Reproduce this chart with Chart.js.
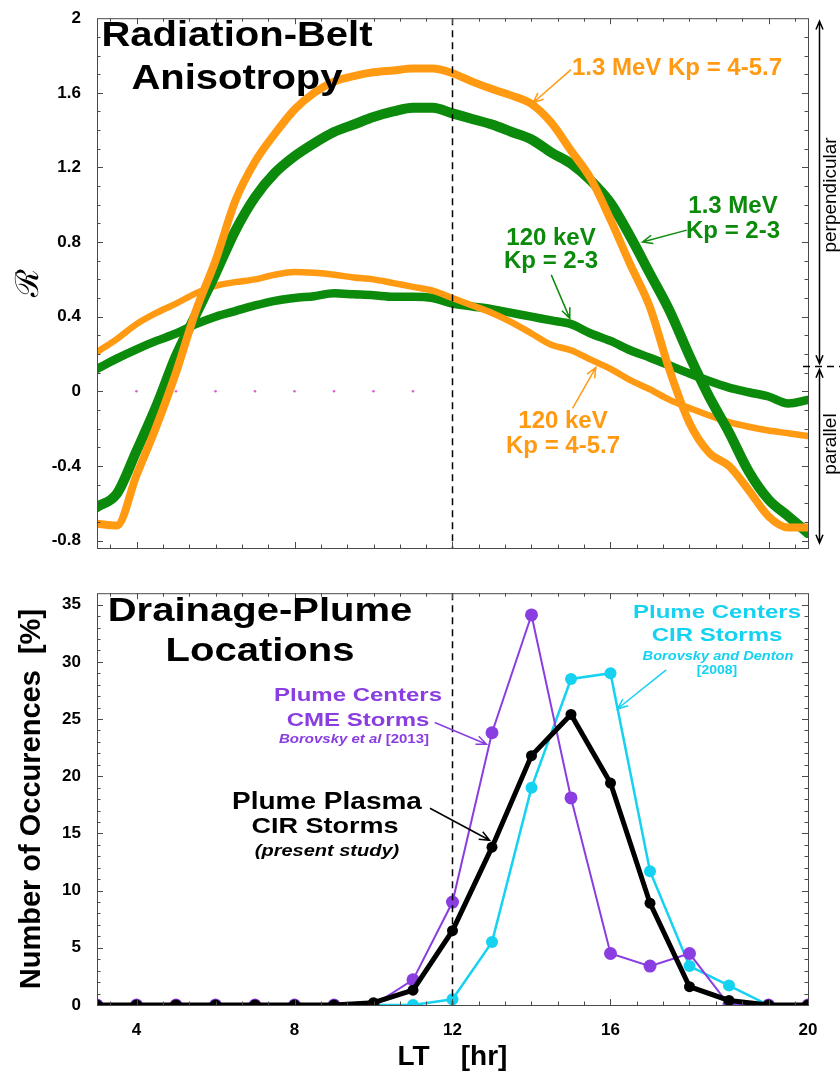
<!DOCTYPE html>
<html>
<head>
<meta charset="utf-8">
<script src="https://cdn.jsdelivr.net/npm/chart.js@4.4.1/dist/chart.umd.min.js"></script>
<style>
  html, body { margin: 0; padding: 0; background: #fff; }
  #page { position: relative; width: 840px; height: 1074px; overflow: hidden; font-family: 'Liberation Sans', Arial, sans-serif; }
  canvas { position: absolute; left: 0; }
  .lbl { position: absolute; white-space: nowrap; font-weight: bold; line-height: 1.12; }
</style>
</head>
<body>
<div id="page">
  <canvas id="beltChart" width="840" height="575" style="top:0"></canvas>
  <canvas id="plumeChart" width="840" height="499" style="top:575px"></canvas>
</div>
<script>
// ---- top panel: anisotropy R vs local time ----
const beltHours = [3, 3.5, 4, 4.5, 5, 5.5, 6, 6.5, 7, 7.5, 8, 8.5, 9, 9.5, 10, 10.5, 11, 11.5, 12,
  12.5, 13, 13.5, 14, 14.5, 15, 15.5, 16, 16.5, 17, 17.5, 18, 18.5, 19, 19.5, 20, 20.5, 21];
const mev13HighKp = [-0.71, -0.72, -0.45, -0.19, 0.10, 0.43, 0.70, 1.02, 1.23, 1.38, 1.51, 1.60, 1.66, 1.69, 1.71, 1.72, 1.73, 1.73, 1.705,
  1.66, 1.62, 1.585, 1.54, 1.44, 1.29, 1.14, 0.92, 0.68, 0.45, 0.11, -0.17, -0.33, -0.40, -0.53, -0.67, -0.73, -0.73];
const mev13LowKp = [-0.62, -0.55, -0.32, -0.08, 0.19, 0.41, 0.63, 0.86, 1.04, 1.17, 1.26, 1.33, 1.39, 1.43, 1.47, 1.50, 1.52, 1.52, 1.49,
  1.46, 1.43, 1.39, 1.35, 1.28, 1.22, 1.13, 1.01, 0.83, 0.63, 0.43, 0.19, -0.03, -0.22, -0.43, -0.58, -0.67, -0.76];
const kev120HighKp = [0.21, 0.28, 0.36, 0.42, 0.47, 0.525, 0.565, 0.585, 0.60, 0.625, 0.64, 0.635, 0.625, 0.61, 0.60, 0.58, 0.56, 0.54, 0.50,
  0.46, 0.42, 0.37, 0.31, 0.25, 0.22, 0.17, 0.12, 0.06, 0.01, -0.046, -0.09, -0.13, -0.165, -0.19, -0.21, -0.225, -0.24];
const kev120LowKp = [0.12, 0.175, 0.225, 0.27, 0.31, 0.36, 0.40, 0.43, 0.46, 0.485, 0.50, 0.51, 0.525, 0.52, 0.515, 0.507, 0.507, 0.50, 0.47,
  0.455, 0.44, 0.42, 0.40, 0.38, 0.36, 0.31, 0.27, 0.22, 0.18, 0.138, 0.095, 0.055, 0.02, -0.005, -0.028, -0.065, -0.046];
const zeroMarkHours = [3, 4, 5, 6, 7, 8, 9, 10, 11];
const zeroMarkValues = [0, 0, 0, 0, 0, 0, 0, 0, 0];
const beltYTicks = [-0.8, -0.4, 0, 0.4, 0.8, 1.2, 1.6, 2];

// ---- bottom panel: plume occurrence vs local time ----
const plumeHours = [3, 4, 5, 6, 7, 8, 9, 10, 11, 12, 13, 14, 15, 16, 17, 18, 19, 20, 21];
const plumePlasmaCIR = [0, 0, 0, 0, 0, 0, 0, 0.2, 1.3, 6.5, 13.8, 21.8, 25.4, 19.4, 8.9, 1.6, 0.4, 0, 0];
const plumeCentersCME = [0, 0, 0, 0, 0, 0, 0, 0, 2.2, 9.0, 23.8, 34.1, 18.1, 4.5, 3.4, 4.5, 0, 0, 0];
const plumeCentersCIR = [0, 0, 0, 0, 0, 0, 0, 0, 0, 0.5, 5.5, 19.0, 28.5, 29.0, 11.7, 3.4, 1.7, 0, null];
const plumeYTicks = [0, 5, 10, 15, 20, 25, 30, 35];
const plumeXTicks = [4, 8, 12, 16, 21];
const plumeXTickLabels = ['4', '8', '12', '16', '20'];   // the original puts "20" at the right edge

const ORANGE = '#ff9a12', GREEN = '#0b8a0b', PURPLE = '#8a3de0', CYAN = '#14d2f0';
const FONT = "'Liberation Sans', Arial, sans-serif";
const tickFont = { family: FONT, size: 17, weight: 'bold' };

Chart.defaults.font.family = FONT;
Chart.defaults.color = '#000';

const pts = (xs, ys) => xs.map((x, i) => ({ x: x, y: ys[i] }));

// frame with inward ticks on all four sides, plus dashed noon line
const frame = {
  id: 'frame',
  afterDatasetsDraw(chart, args, o) {
    const { ctx, chartArea: a, scales: { x, y } } = chart;
    ctx.save();
    const px = x.getPixelForValue(o.dashAt);
    ctx.setLineDash([7, 5]);
    ctx.strokeStyle = '#000';
    ctx.lineWidth = 1.5;
    ctx.beginPath(); ctx.moveTo(px, a.top); ctx.lineTo(px, a.bottom); ctx.stroke();
    ctx.setLineDash([]);

    ctx.strokeStyle = '#4a4a4a';
    ctx.lineWidth = 1;
    ctx.strokeRect(a.left + 0.5, a.top + 0.5, a.right - a.left, a.bottom - a.top);
    const isMajor = (v, m) => Math.abs(v / m - Math.round(v / m)) < 1e-6;
    ctx.beginPath();
    for (let v = o.xFrom; v < x.max - 1e-6; v += o.xStep) {
      const p = Math.round(x.getPixelForValue(v)) + 0.5;
      const len = isMajor(v, o.xMajor) ? 6 : 3.5;
      ctx.moveTo(p, a.bottom); ctx.lineTo(p, a.bottom - len);
      ctx.moveTo(p, a.top); ctx.lineTo(p, a.top + len);
    }
    for (let v = o.yFrom; v < y.max - 1e-6; v += o.yStep) {
      const p = Math.round(y.getPixelForValue(v)) + 0.5;
      const len = isMajor(v, o.yMajor) ? 6 : 3.5;
      ctx.moveTo(a.left, p); ctx.lineTo(a.left + len, p);
      ctx.moveTo(a.right, p); ctx.lineTo(a.right - len, p);
    }
    ctx.stroke();
    ctx.restore();
  }
};

function arrowHead(ctx, x0, y0, x1, y1, len) {
  const ang = Math.atan2(y1 - y0, x1 - x0);
  ctx.moveTo(x1 - len * Math.cos(ang - 0.4), y1 - len * Math.sin(ang - 0.4));
  ctx.lineTo(x1, y1);
  ctx.lineTo(x1 - len * Math.cos(ang + 0.4), y1 - len * Math.sin(ang + 0.4));
}

// label pointers, given in data coordinates
const callouts = {
  id: 'callouts',
  afterDatasetsDraw(chart, args, o) {
    const { ctx, scales: { x, y } } = chart;
    ctx.save();
    ctx.lineWidth = 1.5;
    o.arrows.forEach(a => {
      const x0 = x.getPixelForValue(a.from[0]), y0 = y.getPixelForValue(a.from[1]);
      const x1 = x.getPixelForValue(a.to[0]), y1 = y.getPixelForValue(a.to[1]);
      ctx.strokeStyle = a.color;
      ctx.beginPath();
      ctx.moveTo(x0, y0); ctx.lineTo(x1, y1);
      arrowHead(ctx, x0, y0, x1, y1, 11);
      ctx.stroke();
    });
    ctx.restore();
  }
};

// perpendicular / parallel brackets at the right of the top panel
const sideArrows = {
  id: 'sideArrows',
  afterDraw(chart, args, o) {
    const { ctx, chartArea: a, scales: { y } } = chart;
    const ax = a.right + 11.5, ys = y.getPixelForValue(o.split);
    ctx.save();
    ctx.strokeStyle = '#000';
    ctx.lineWidth = 1.5;
    const seg = (y0, y1) => {
      ctx.beginPath();
      ctx.moveTo(ax, y0); ctx.lineTo(ax, y1);
      arrowHead(ctx, ax, y1, ax, y0, 9);
      arrowHead(ctx, ax, y0, ax, y1, 9);
      ctx.stroke();
    };
    seg(a.top + 3, ys - 3);
    seg(ys + 3, a.bottom - 5);
    ctx.setLineDash([7, 5]);
    ctx.beginPath(); ctx.moveTo(a.right - 5, ys); ctx.lineTo(chart.width, ys); ctx.stroke();
    ctx.restore();
  }
};

new Chart(document.getElementById('beltChart'), {
  type: 'line',
  data: {
    datasets: [
      { data: pts(beltHours, mev13HighKp), borderColor: ORANGE, borderWidth: 8 },
      { data: pts(beltHours, mev13LowKp), borderColor: GREEN, borderWidth: 10 },
      { data: pts(beltHours, kev120HighKp), borderColor: ORANGE, borderWidth: 6.5 },
      { data: pts(beltHours, kev120LowKp), borderColor: GREEN, borderWidth: 8.5 },
      { data: pts(zeroMarkHours, zeroMarkValues), showLine: false, pointRadius: 1.3,
        pointBackgroundColor: '#e060d0', pointBorderWidth: 0 }
    ]
  },
  options: {
    responsive: false,
    animation: false,
    layout: { padding: { top: 15, right: 32, left: 0, bottom: 0 } },
    elements: {
      point: { radius: 0 },
      line: { cubicInterpolationMode: 'monotone', borderCapStyle: 'round', borderJoinStyle: 'round' }
    },
    plugins: {
      legend: { display: false },
      tooltip: { enabled: false },
      frame: { dashAt: 12, xFrom: 10 / 3, xStep: 2 / 3, xMajor: 4, yFrom: -0.8, yStep: 0.1, yMajor: 0.4 },
      callouts: {
        arrows: [
          { from: [15.0, 1.724], to: [14.04, 1.547], color: ORANGE },
          { from: [17.93, 0.864], to: [16.81, 0.80], color: GREEN },
          { from: [14.5, 0.624], to: [14.97, 0.391], color: GREEN },
          { from: [15.04, -0.091], to: [15.63, 0.128], color: ORANGE }
        ]
      },
      sideArrows: { split: 0.133 }
    },
    scales: {
      x: {
        type: 'linear', min: 3, max: 21,
        grid: { display: false }, border: { display: false },
        ticks: { display: false },
        afterFit: s => { s.height = 27; }
      },
      y: {
        min: -0.84, max: 2,
        grid: { display: false }, border: { display: false },
        afterBuildTicks: s => { s.ticks = beltYTicks.map(v => ({ value: v })); },
        ticks: { font: tickFont, color: '#000', padding: 8, autoSkip: false, callback: v => String(v) },
        title: { display: true, text: 'ℛ', color: '#000',
          font: { family: 'DejaVu Serif', size: 32 }, padding: { top: 10, bottom: 0 } },
        afterFit: s => { s.width = 97; }
      }
    }
  },
  plugins: [frame, callouts, sideArrows]
});

new Chart(document.getElementById('plumeChart'), {
  type: 'line',
  data: {
    datasets: [
      { data: pts(plumeHours, plumePlasmaCIR), borderColor: '#000', borderWidth: 5,
        pointRadius: 5.5, pointBackgroundColor: '#000', pointBorderWidth: 0 },
      { data: pts(plumeHours, plumeCentersCME), borderColor: PURPLE, borderWidth: 2,
        pointRadius: 6.5, pointBackgroundColor: PURPLE, pointBorderWidth: 0 },
      { data: pts(plumeHours, plumeCentersCIR), borderColor: CYAN, borderWidth: 2.5,
        pointRadius: 6, pointBackgroundColor: CYAN, pointBorderWidth: 0 }
    ]
  },
  options: {
    responsive: false,
    animation: false,
    layout: { padding: { top: 14, right: 32, left: 0, bottom: 0 } },
    elements: { line: { tension: 0 } },
    plugins: {
      legend: { display: false },
      tooltip: { enabled: false },
      frame: { dashAt: 12, xFrom: 10 / 3, xStep: 2 / 3, xMajor: 4, yFrom: 0, yStep: 1, yMajor: 5 },
      callouts: {
        arrows: [
          { from: [17.41, 29.3], to: [16.18, 25.9], color: CYAN },
          { from: [11.55, 24.7], to: [12.86, 22.8], color: PURPLE },
          { from: [11.43, 17.2], to: [12.94, 14.4], color: '#000' }
        ]
      }
    },
    scales: {
      x: {
        type: 'linear', min: 3, max: 21,
        grid: { display: false }, border: { display: false },
        afterBuildTicks: s => { s.ticks = plumeXTicks.map(v => ({ value: v })); },
        ticks: { font: tickFont, color: '#000', padding: 7, autoSkip: false, maxRotation: 0,
          callback: (v, i) => plumeXTickLabels[i] },
        title: { display: true, text: 'LT    [hr]', color: '#000',
          font: { family: FONT, size: 28, weight: 'bold' }, padding: 0 },
        afterFit: s => { s.height = 69; }
      },
      y: {
        min: 0, max: 36,
        grid: { display: false }, border: { display: false },
        afterBuildTicks: s => { s.ticks = plumeYTicks.map(v => ({ value: v })); },
        ticks: { font: tickFont, color: '#000', padding: 8, autoSkip: false },
        title: { display: true, text: 'Number of Occurences  [%]', color: '#000',
          font: { family: FONT, size: 29, weight: 'bold' }, padding: { top: 15, bottom: 0 } },
        afterFit: s => { s.width = 97; }
      }
    }
  },
  plugins: [frame, callouts]
});

// annotation text, centred on (x, y) in page pixels; sy squeezes the glyphs vertically
const notes = [
  { h: 'Radiation-Belt', x: 237, y: 34, s: 40, c: '#000', sy: 0.87 },
  { h: 'Anisotropy', x: 237, y: 77, s: 40, c: '#000', sy: 0.87 },
  { h: '1.3 MeV Kp = 4-5.7', x: 677, y: 67, s: 24, c: ORANGE },
  { h: '1.3 MeV', x: 733, y: 205, s: 24, c: GREEN },
  { h: 'Kp = 2-3', x: 733, y: 230, s: 24, c: GREEN },
  { h: '120 keV', x: 551, y: 237, s: 24, c: GREEN },
  { h: 'Kp = 2-3', x: 551, y: 260, s: 24, c: GREEN },
  { h: '120 keV', x: 563, y: 420, s: 24, c: ORANGE },
  { h: 'Kp = 4-5.7', x: 563, y: 445, s: 24, c: ORANGE },
  { h: 'perpendicular', x: 830, y: 195, s: 19, c: '#000', w: 'normal', rot: true },
  { h: 'parallel', x: 830, y: 444, s: 19, c: '#000', w: 'normal', rot: true },
  { h: 'Drainage-Plume', x: 260, y: 610, s: 40, c: '#000', sy: 0.82 },
  { h: 'Locations', x: 260, y: 650, s: 40, c: '#000', sy: 0.82 },
  { h: 'Plume Centers', x: 358, y: 695, s: 24, c: PURPLE, sy: 0.8 },
  { h: 'CME Storms', x: 358, y: 720, s: 24, c: PURPLE, sy: 0.8 },
  { h: '<i>Borovsky et al</i> [2013]', x: 354, y: 739, s: 15, c: PURPLE, sy: 0.85 },
  { h: 'Plume Centers', x: 717, y: 612, s: 24, c: CYAN, sy: 0.8 },
  { h: 'CIR Storms', x: 717, y: 635, s: 24, c: CYAN, sy: 0.8 },
  { h: '<i>Borovsky and Denton</i>', x: 718, y: 656, s: 14.6, c: CYAN, sy: 0.85 },
  { h: '[2008]', x: 717, y: 670, s: 14, c: CYAN, sy: 0.85 },
  { h: 'Plume Plasma', x: 327, y: 801, s: 28, c: '#000', sy: 0.83 },
  { h: 'CIR Storms', x: 325, y: 826, s: 27, c: '#000', sy: 0.83 },
  { h: '<i>(present study)</i>', x: 327, y: 850, s: 20, c: '#000', sy: 0.85 }
];
const page = document.getElementById('page');
notes.forEach(n => {
  const d = document.createElement('div');
  d.className = 'lbl';
  d.innerHTML = n.h;
  d.style.left = n.x + 'px';
  d.style.top = n.y + 'px';
  d.style.fontSize = n.s + 'px';
  d.style.color = n.c;
  if (n.w) d.style.fontWeight = n.w;
  d.style.transform = 'translate(-50%, -50%)' + (n.rot ? ' rotate(-90deg)' : '') + (n.sy ? ' scaleY(' + n.sy + ')' : '');
  page.appendChild(d);
});
</script>
</body>
</html>
